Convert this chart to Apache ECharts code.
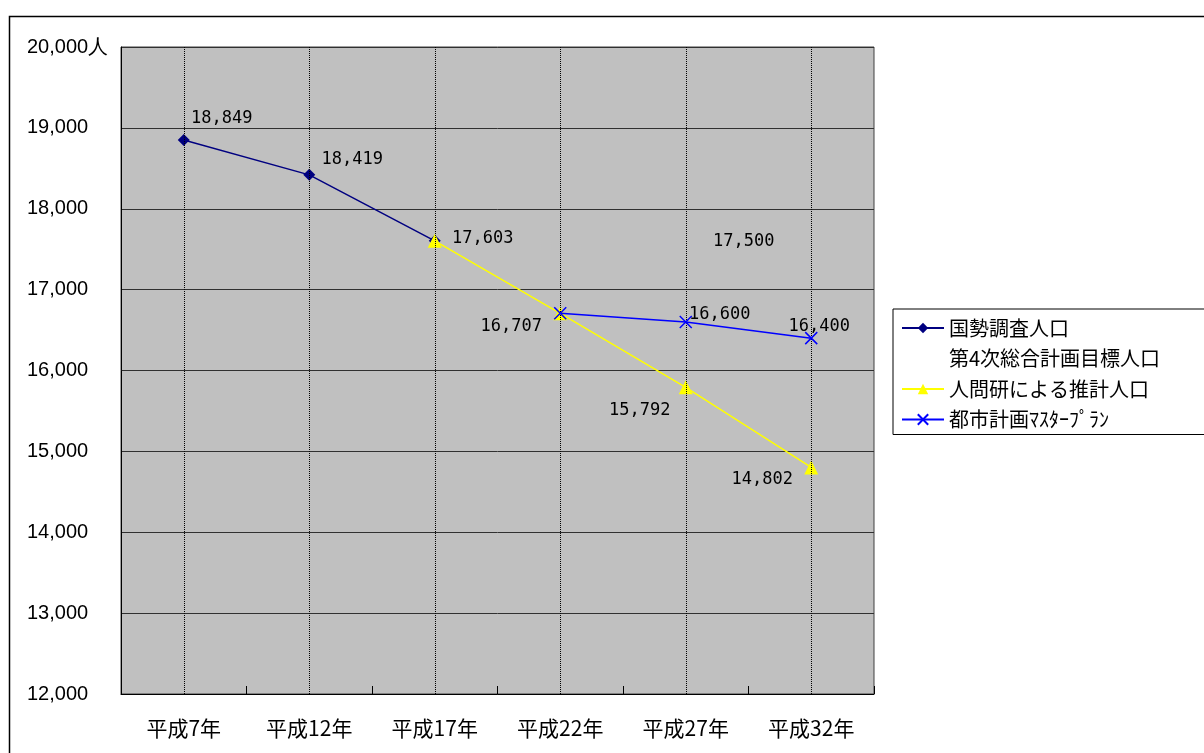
<!DOCTYPE html>
<html>
<head>
<meta charset="utf-8">
<title>人口の推移</title>
<script src="https://cdn.jsdelivr.net/npm/echarts@6/dist/echarts.min.js"></script>
<style>
    html, body { margin: 0; padding: 0; background: #fff; }
    #chart { width: 1204px; height: 753px; }
</style>
</head>
<body>
<div id="chart"></div>
<script>
// categories & values
const categories = ['平成7年', '平成12年', '平成17年', '平成22年', '平成27年', '平成32年']
const seriesNames = ['国勢調査人口', '第4次総合計画目標人口', '人問研による推計人口', '都市計画ﾏｽﾀｰﾌﾟﾗﾝ']
const censusPop = [18849, 18419, 17603, null, null, null]
const planTarget = [null, null, null, null, 17500, null]
const ipssEstimate = [null, null, 17603, 16707, 15792, 14802]
const masterPlan = [null, null, null, 16707, 16600, 16400]

// where each value label sits relative to its point (null = no label)
const censusLabelOffset = [[38, -22], [43, -15], [48, -2], null, null, null]
const planLabelOffset = [null, null, null, null, [58, -8], null]
const ipssLabelOffset = [null, null, null, [-49, 13], [-46, 23], [-49, 12]]
const masterLabelOffset = [null, null, null, null, [34, -7], [8, -12]]

const CJK = '"Noto Sans CJK JP", "Liberation Sans", sans-serif'

function fmt (v) {
    return String(v).replace(/\B(?=(\d{3})+(?!\d))/g, ',')
}

function build (values, offsets) {
    return values.map(function (v, i) {
        if (v == null) return null
        return {
            value: v,
            label: {
                show: !!offsets[i],
                position: 'inside',
                offset: offsets[i] || [0, 0]
            }
        }
    })
}

const labelStyle = {
    color: '#000',
    fontFamily: '"DejaVu Sans Mono", monospace',
    fontSize: 17,
    formatter: function (p) { return fmt(p.value) }
}

let chart = echarts.init(document.getElementById('chart'))
chart.setOption({
    animation: false,
    backgroundColor: '#fff',
    graphic: [
        {
            type: 'rect',
            left: 7,
            top: 14,
            shape: { width: 1215, height: 760 },
            style: { fill: 'none', stroke: '#000', lineWidth: 1.5 },
            silent: true
        }
    ],
    grid: {
        left: 121,
        right: 330,
        top: 47,
        bottom: 59,
        show: true,
        backgroundColor: '#c0c0c0',
        borderColor: '#404040',
        borderWidth: 1
    },
    legend: {
        orient: 'vertical',
        left: 893,
        top: 309,
        padding: [8, 60, 4, 8],
        borderColor: '#000',
        borderWidth: 1,
        itemWidth: 42,
        itemHeight: 13,
        itemGap: 8.5,
        textStyle: { fontFamily: CJK, fontSize: 20, lineHeight: 22, color: '#000' },
        data: [
            { name: seriesNames[0] },
            { name: seriesNames[1], itemStyle: { opacity: 0 }, lineStyle: { opacity: 0 } },
            { name: seriesNames[2] },
            { name: seriesNames[3] }
        ]
    },
    xAxis: {
        type: 'category',
        data: categories,
        boundaryGap: true,
        axisLine: { lineStyle: { color: '#000', width: 1 } },
        axisTick: { show: true, inside: true, length: 8, interval: 0, lineStyle: { color: '#000' } },
        axisLabel: { margin: 24, fontFamily: CJK, fontSize: 21, color: '#000', interval: 0 },
        splitLine: { show: false }
    },
    yAxis: {
        type: 'value',
        min: 12000,
        max: 20000,
        interval: 1000,
        axisLine: { show: true, lineStyle: { color: '#000', width: 1 } },
        axisTick: { show: false },
        axisLabel: {
            margin: 94,
            align: 'left',
            fontFamily: '"Liberation Sans", Arial, sans-serif',
            fontSize: 20,
            color: '#000',
            formatter: function (v) { return v === 20000 ? fmt(v) + '人' : fmt(v) }
        },
        splitLine: { lineStyle: { color: '#303030', width: 1 } }
    },
    series: [
        {
            name: seriesNames[0],
            type: 'line',
            data: build(censusPop, censusLabelOffset),
            symbol: 'diamond',
            symbolSize: 12,
            color: '#000080',
            lineStyle: { color: '#000080', width: 1.5 },
            itemStyle: { color: '#000080' },
            label: labelStyle,
            z: 3
        },
        {
            name: seriesNames[1],
            type: 'line',
            data: build(planTarget, planLabelOffset),
            symbol: 'circle',
            symbolSize: 1,
            lineStyle: { opacity: 0 },
            itemStyle: { color: 'rgba(0,0,0,0)' },
            label: labelStyle,
            z: 2,
            markLine: {
                silent: true,
                symbol: ['none', 'none'],
                label: { show: false },
                lineStyle: { color: '#000', type: 'dotted', width: 1 },
                data: categories.map(function (c) { return { xAxis: c } })
            }
        },
        {
            name: seriesNames[2],
            type: 'line',
            data: build(ipssEstimate, ipssLabelOffset),
            symbol: 'triangle',
            symbolSize: 14,
            color: '#ffff00',
            lineStyle: { color: '#ffff00', width: 1.5 },
            itemStyle: { color: '#ffff00' },
            label: labelStyle,
            z: 4
        },
        {
            name: seriesNames[3],
            type: 'line',
            data: build(masterPlan, masterLabelOffset),
            symbol: 'path://M0,0L10,10M10,0L0,10',
            symbolSize: 12,
            color: '#0000ff',
            lineStyle: { color: '#0000ff', width: 1.5 },
            itemStyle: { color: 'none', borderColor: '#0000ff', borderWidth: 1.5 },
            label: labelStyle,
            z: 5
        }
    ]
})
</script>
</body>
</html>
